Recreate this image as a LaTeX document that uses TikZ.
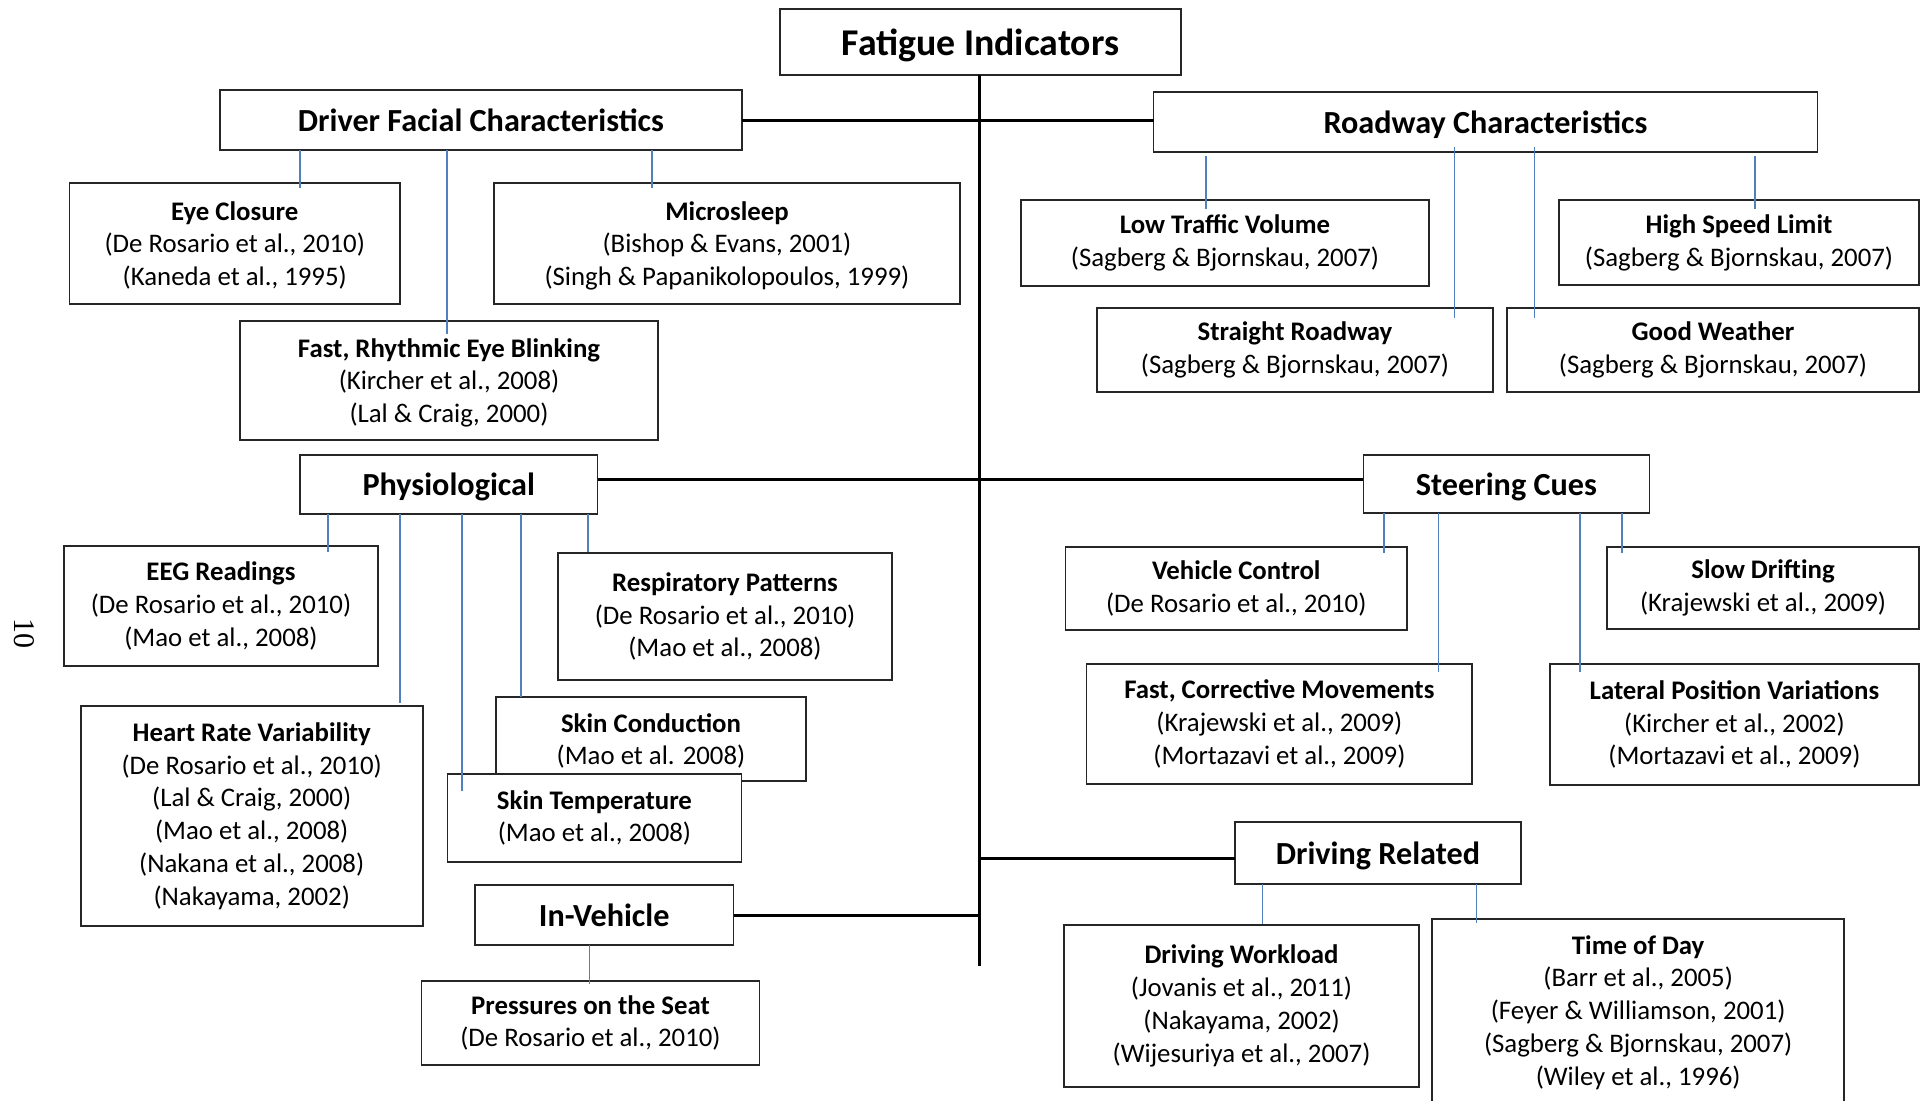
\documentclass[tikz,border=0pt]{standalone}
\usepackage{fontspec}
\setmainfont{Carlito}
\newfontfamily\pnfont{Liberation Serif}
\usetikzlibrary{calc}
\definecolor{conblue}{RGB}{79,129,189}
\tikzset{
  box/.style={draw=black!85, line width=0.9pt, fill=white, inner sep=0pt, outer sep=0pt, align=center},
  titlebox/.style={box, font=\fontsize{18.9pt}{22pt}\selectfont\bfseries, text depth=0pt},
  headbox/.style={box, font=\fontsize{16.1pt}{19pt}\selectfont\bfseries, text depth=0pt},
  leafbox/.style={box, font=\fontsize{13.4pt}{16.4pt}\selectfont},
  trunkline/.style={draw=black, line width=1.5pt},
  bl/.style={draw=conblue, line width=0.85pt}
}
% #1 style, #2 name, #3 x1, #4 y1, #5 x2, #6 y2, #7 text
\newcommand{\mybox}[7]{%
  \pgfmathsetmacro\bw{(#5-#3)*0.5}%
  \pgfmathsetmacro\bh{(#6-#4)*0.5}%
  \node[#1, minimum width=\bw pt, minimum height=\bh pt] (#2) at ({(#3+#5)/2},{(#4+#6)/2}) {#7};}
% #1 parent, #2 child, #3 x, #4 start offset, #5 end offset
\newcommand{\bline}[5]{%
  \draw[bl] ($(#1.south -| #3,0)+(0,#4)$) -- ($(#2.north -| #3,0)+(0,#5)$);}
\begin{document}
\begin{tikzpicture}[x=0.5pt,y=-0.5pt]
\useasboundingbox (0,0) rectangle (1929,1100);
\clip (0,0) rectangle (1929,1100);
\fill[white] (0,0) rectangle (1929,1100);

% page number
\node[font=\pnfont\fontsize{15pt}{18pt}\selectfont, rotate=-90, inner sep=0pt] (pnum) at (24,633) {10};

% trunk
\coordinate (tbot) at (979,966);

% title
\mybox{titlebox}{fi}{780}{9}{1181}{75}{Fatigue Indicators}

% headers
\mybox{headbox}{dfc}{220}{90}{742}{150}{Driver Facial Characteristics}
\mybox{headbox}{rc}{1153.5}{92}{1817.5}{152}{Roadway Characteristics}
\mybox{headbox}{phys}{300}{455}{597.5}{514}{Physiological}
\mybox{headbox}{steer}{1363.4}{455}{1649.5}{513.3}{Steering Cues}
\mybox{headbox}{iv}{475}{885}{733.5}{945}{In-Vehicle}
\mybox{headbox}{dr}{1234.8}{822}{1521}{884}{Driving Related}

% black connectors
\draw[trunkline] (fi.south -| tbot) -- (tbot);
\draw[trunkline] (dfc.east) -- (dfc.east -| rc.west);
\draw[trunkline] (phys.east |- 0,479) -- (steer.west |- 0,479);
\draw[trunkline] (iv.east) -- (iv.east -| tbot);
\draw[trunkline] (dr.west |- 0,858) -- (tbot |- 0,858);

% driver facial leaves
\mybox{leafbox, text depth=0pt}{eye}{69.5}{183}{400}{304}{\textbf{Eye Closure}\\(De Rosario et al., 2010)\\(Kaneda et al., 1995)}
\mybox{leafbox, text depth=0pt}{micro}{494}{183}{960}{304}{\textbf{Microsleep}\\(Bishop \& Evans, 2001)\\(Singh \& Papanikolopoulos, 1999)}
\mybox{leafbox, text depth=0pt}{blink}{240}{321}{658}{440}{\textbf{Fast, Rhythmic Eye Blinking}\\(Kircher et al., 2008)\\(Lal \& Craig, 2000)}

% roadway leaves
\mybox{leafbox}{ltv}{1021}{200}{1429}{286}{\textbf{Low Traffic Volume}\\(Sagberg \& Bjornskau, 2007)}
\mybox{leafbox}{hsl}{1559}{200}{1919}{285}{\textbf{High Speed Limit}\\(Sagberg \& Bjornskau, 2007)}
\mybox{leafbox}{sr}{1097}{308}{1493}{392}{\textbf{Straight Roadway}\\(Sagberg \& Bjornskau, 2007)}
\mybox{leafbox}{gw}{1507}{308}{1919}{392}{\textbf{Good Weather}\\(Sagberg \& Bjornskau, 2007)}

% physiological leaves
\mybox{leafbox}{eeg}{64}{546}{378}{666}{\textbf{EEG Readings}\\(De Rosario et al., 2010)\\(Mao et al., 2008)}
\mybox{leafbox}{resp}{558}{553}{892}{680}{\textbf{Respiratory Patterns}\\(De Rosario et al., 2010)\\(Mao et al., 2008)}
\mybox{leafbox}{hrv}{80.6}{706}{422.8}{926}{\textbf{Heart Rate Variability}\\(De Rosario et al., 2010)\\(Lal \& Craig, 2000)\\(Mao et al., 2008)\\(Nakana et al., 2008)\\(Nakayama, 2002)}
\mybox{leafbox, text depth=0pt}{sc}{496}{697}{806}{781}{\textbf{Skin Conduction}\\(Mao et al. 2008)}
\mybox{leafbox}{st}{447.4}{774}{741.5}{862}{\textbf{Skin Temperature}\\(Mao et al., 2008)}

% in-vehicle leaf
\mybox{leafbox}{pos}{421.5}{981}{759.4}{1065}{\textbf{Pressures on the Seat}\\(De Rosario et al., 2010)}

% steering leaves
\mybox{leafbox}{vc}{1065.5}{547.3}{1407}{629.7}{\textbf{Vehicle Control}\\(De Rosario et al., 2010)}
\mybox{leafbox}{sd}{1607}{547}{1919}{629}{\textbf{Slow Drifting}\\(Krajewski et al., 2009)}
\mybox{leafbox}{fcm}{1086.5}{664}{1472.3}{784}{\textbf{Fast, Corrective Movements}\\(Krajewski et al., 2009)\\(Mortazavi et al., 2009)}
\mybox{leafbox}{lpv}{1549.8}{664.3}{1919}{784.7}{\textbf{Lateral Position Variations}\\(Kircher et al., 2002)\\(Mortazavi et al., 2009)}

% driving related leaves
\mybox{leafbox}{dw}{1064.3}{925}{1418.8}{1087}{\textbf{Driving Workload}\\(Jovanis et al., 2011)\\(Nakayama, 2002)\\(Wijesuriya et al., 2007)}
\mybox{leafbox}{tod}{1432.3}{919}{1844}{1106}{\textbf{Time of Day}\\(Barr et al., 2005)\\(Feyer \& Williamson, 2001)\\(Sagberg \& Bjornskau, 2007)\\(Wiley et al., 1996)}

% blue connectors
\bline{dfc}{eye}{300}{0}{5}
\bline{dfc}{blink}{447}{0}{13}
\bline{dfc}{micro}{652}{0}{5}
\bline{rc}{ltv}{1206}{4}{9}
\bline{rc}{sr}{1454.5}{-5}{10}
\bline{rc}{gw}{1534.5}{-5}{10}
\bline{rc}{hsl}{1755}{4}{9}
\bline{phys}{eeg}{328}{0}{6}
\bline{phys}{hrv}{400}{0}{-3}
\bline{phys}{st}{462}{0}{17}
\bline{phys}{sc}{521}{0}{0}
\bline{phys}{resp}{588}{0}{-1}
\bline{steer}{vc}{1384}{0}{6}
\bline{steer}{fcm}{1438.5}{0}{8}
\bline{steer}{lpv}{1580}{0}{8}
\bline{steer}{sd}{1622}{0}{6}
\bline{iv}{pos}{589.5}{0}{3}
\bline{dr}{dw}{1262.5}{0}{-1}
\bline{dr}{tod}{1476.6}{0}{4}
\end{tikzpicture}
\end{document}
